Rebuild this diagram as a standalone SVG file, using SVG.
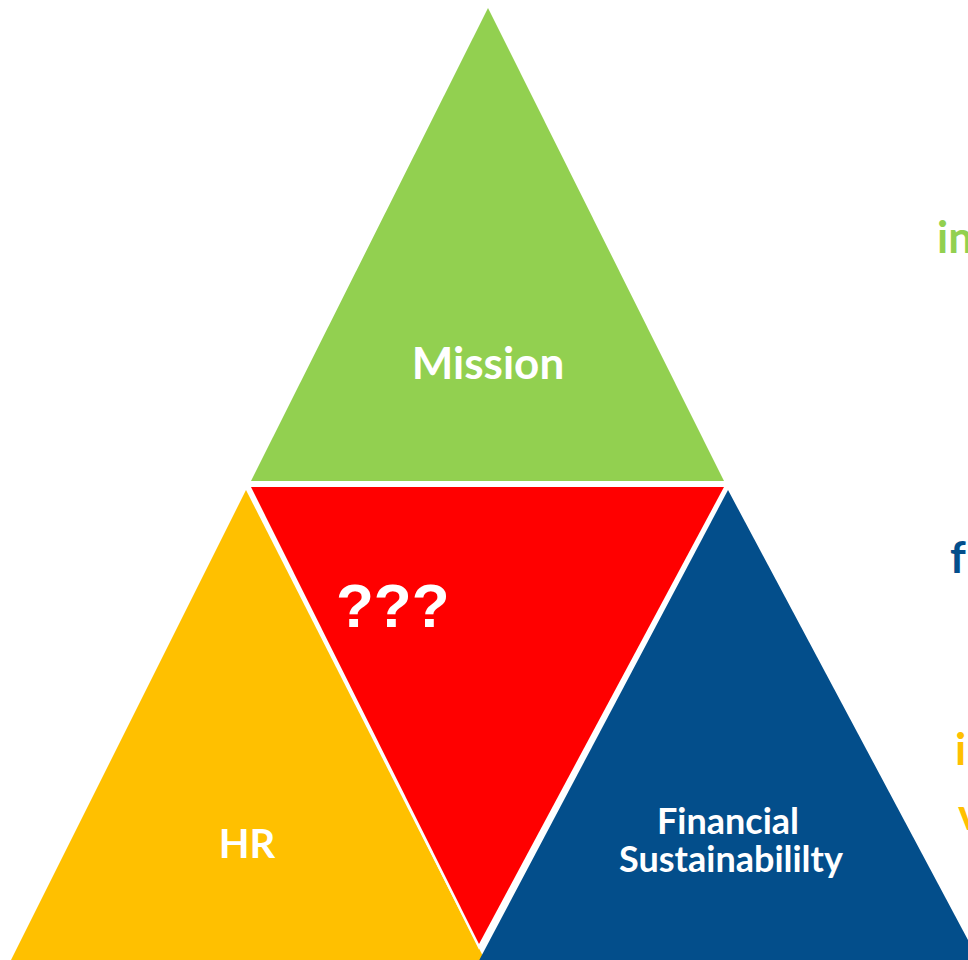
<svg xmlns="http://www.w3.org/2000/svg" width="968" height="960" viewBox="0 0 968 960">
<style>
.lbl{font-family:Lato,"Open Sans","Liberation Sans",sans-serif;font-weight:bold;fill:#fff;text-anchor:middle}
.side{font-family:Lato,"Open Sans","Liberation Sans",sans-serif;font-weight:bold;font-size:44px}
</style>
<rect width="968" height="960" fill="#fff"/>
<g id="hr">
<polygon points="246,490 6,970 490,970" fill="#FFC000"/>
<text class="lbl" x="247" y="858" font-size="40">HR</text>
</g>
<g id="financial">
<polygon points="728,490 474,970 984,970" fill="#034E8B"/>
<text class="lbl" x="728" y="834" font-size="36">Financial</text>
<text class="lbl" x="731" y="872" font-size="36">Sustainabililty</text>
</g>
<g id="unknown">
<polygon points="251,487 724,487 479,944" fill="#FF0000" stroke="#fff" stroke-width="5" stroke-linejoin="miter"/>
<polygon points="251,487 724,487 479,944" fill="#FF0000"/>
<text x="336" y="627" font-family="'Liberation Sans',Arial,sans-serif" font-weight="bold" font-size="62" fill="#fff">???</text>
</g>
<g id="mission">
<polygon points="488,8 251,481 724,481" fill="#92D050"/>
<text class="lbl" x="488" y="379" font-size="44">Mission</text>
</g>
<g id="side-text">
<text class="side" x="937" y="253" fill="#92D050">in</text>
<text class="side" x="950" y="573" fill="#034E8B">f</text>
<text class="side" x="955" y="765" fill="#FFC000">i</text>
<text class="side" x="958" y="830" fill="#FFC000">v</text>
</g>
</svg>
